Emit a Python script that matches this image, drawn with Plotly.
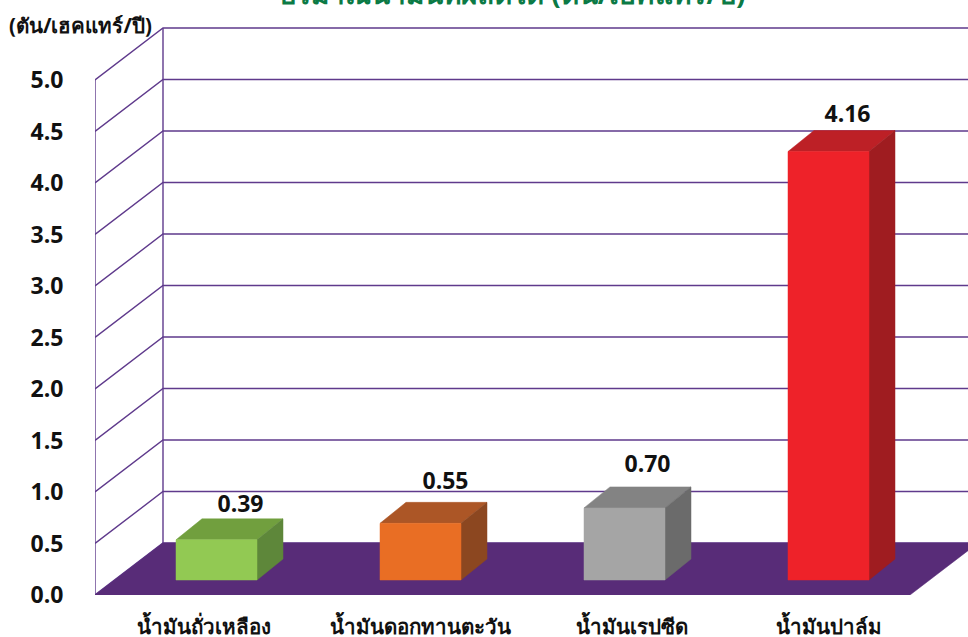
import plotly.graph_objects as go

categories = ["น้ำมันถั่วเหลือง", "น้ำมันดอกทานตะวัน", "น้ำมันเรปซีด", "น้ำมันปาล์ม"]
values = [0.39, 0.55, 0.70, 4.16]
value_labels = ["0.39", "0.55", "0.70", "4.16"]
y_ticks = [0.0, 0.5, 1.0, 1.5, 2.0, 2.5, 3.0, 3.5, 4.0, 4.5, 5.0]
y_tick_labels = ["0.0", "0.5", "1.0", "1.5", "2.0", "2.5", "3.0", "3.5", "4.0", "4.5", "5.0"]
front_colors = ["#92c953", "#e96e24", "#a5a5a5", "#ee2229"]
top_colors = ["#719f3e", "#ac5626", "#838383", "#bd2026"]
side_colors = ["#5e873a", "#8c4720", "#6b6b6b", "#9f1c20"]
title_text = "ปริมาณน้ำมันที่ผลิตได้ (ตัน/เฮคแทร์/ปี)"
unit_text = "(ตัน/เฮคแทร์/ปี)"

PX_X = 204.0
PX_Y = 103.0
W, H = 968, 637
ML, MB = 95, 42
PW, PH = W - ML, H - MB
x0 = -(216.5 - ML) / PX_X
x1 = x0 + PW / PX_X
ytop = PH / PX_Y
WALL_DX = 68 / PX_X
WALL_DY = 52 / PX_Y
BAR_W = 81 / PX_X
BAR_DX = 26 / PX_X
BAR_DY = 21 / PX_Y
BAR_BASE = 15 / PX_Y
FLOOR_R = x0 + (910 - ML) / PX_X
GRID = "#5f3a8c"
FLOOR = "#582c78"
# hand placement of the labels, in pixels, relative to each bar / tick
VALUE_NUDGE_X = [24.0, 25.0, 23.0, 19.0]
VALUE_NUDGE_Y = [13, 19, 21, 14]
CATEGORY_NUDGE_X = [-12.5, -0.5, 7.5, 0.5]

fig = go.Figure()


def poly(xs, ys, color):
    fig.add_trace(go.Scatter(x=xs, y=ys, mode="lines", fill="toself", fillcolor=color,
                             line=dict(color=color, width=0.5), hoverinfo="skip",
                             showlegend=False, cliponaxis=False))


# walls
for t in y_ticks:
    fig.add_trace(go.Scatter(x=[x0, x0 + WALL_DX, x1 + 0.2], y=[t, t + WALL_DY, t + WALL_DY], mode="lines",
                             line=dict(color=GRID, width=1.4), hoverinfo="skip", showlegend=False,
                             cliponaxis=False))
for xv, dy in ((x0, 0), (x0 + WALL_DX, WALL_DY)):
    fig.add_trace(go.Scatter(x=[xv, xv], y=[dy, 5 + dy], mode="lines",
                             line=dict(color=GRID, width=1.4), hoverinfo="skip", showlegend=False,
                             cliponaxis=False))

# floor
poly([x0, FLOOR_R, FLOOR_R + WALL_DX, x0 + WALL_DX, x0], [0, 0, WALL_DY, WALL_DY, 0], FLOOR)

# bars
for i, v in enumerate(values):
    l, r = i - BAR_W / 2, i + BAR_W / 2
    b, t = BAR_BASE, BAR_BASE + v
    poly([l, r, r + BAR_DX, l + BAR_DX, l], [t, t, t + BAR_DY, t + BAR_DY, t], top_colors[i])
    poly([r, r + BAR_DX, r + BAR_DX, r, r], [b, b + BAR_DY, t + BAR_DY, t, b], side_colors[i])
    poly([l, r, r, l, l], [b, b, t, t, b], front_colors[i])

fig.add_trace(go.Scatter(
    x=[i + VALUE_NUDGE_X[i] / PX_X for i in range(len(values))],
    y=[v + BAR_BASE + BAR_DY + VALUE_NUDGE_Y[i] / PX_Y for i, v in enumerate(values)],
    mode="text", text=value_labels, textposition="middle center",
    textfont=dict(family="Open Sans", size=23, color="#111111", weight="bold"),
    hoverinfo="skip", showlegend=False, cliponaxis=False))

fig.add_annotation(x=(512 - ML) / PW, y=1.0, xref="paper", yref="paper", yanchor="bottom", xanchor="center",
                   yshift=-14, text=title_text, showarrow=False,
                   font=dict(family="Noto Sans", size=28, color="#0b7a45", weight="bold"))
fig.add_annotation(x=(80 - ML) / PW, y=(PH - 25) / PH, xref="paper", yref="paper", yanchor="middle", xanchor="center",
                   text=unit_text, showarrow=False,
                   font=dict(family="Noto Sans", size=20.5, color="#111111", weight="bold"))

fig.update_layout(
    width=W, height=H, margin=dict(l=ML, r=0, t=0, b=MB, pad=0),
    paper_bgcolor="white", plot_bgcolor="white", showlegend=False,
    xaxis=dict(range=[x0, x1], tickvals=[i + CATEGORY_NUDGE_X[i] / PX_X for i in range(len(categories))],
               ticktext=categories, automargin=False,
               showgrid=False, zeroline=False, showline=False, ticks="outside", ticklen=13,
               tickcolor="rgba(0,0,0,0)",
               tickfont=dict(family="Noto Sans", size=20.5, color="#111111", weight="bold")),
    yaxis=dict(range=[0, ytop], tickvals=y_ticks, ticktext=y_tick_labels, automargin=False,
               showgrid=False, zeroline=False, showline=False, ticks="outside", ticklen=26,
               tickcolor="rgba(0,0,0,0)",
               tickfont=dict(family="Open Sans", size=23, color="#111111", weight="bold")),
)
fig.write_html("out.html", config={"displayModeBar": False},
               post_script="document.body.style.margin='0';document.body.style.overflow='hidden';")
